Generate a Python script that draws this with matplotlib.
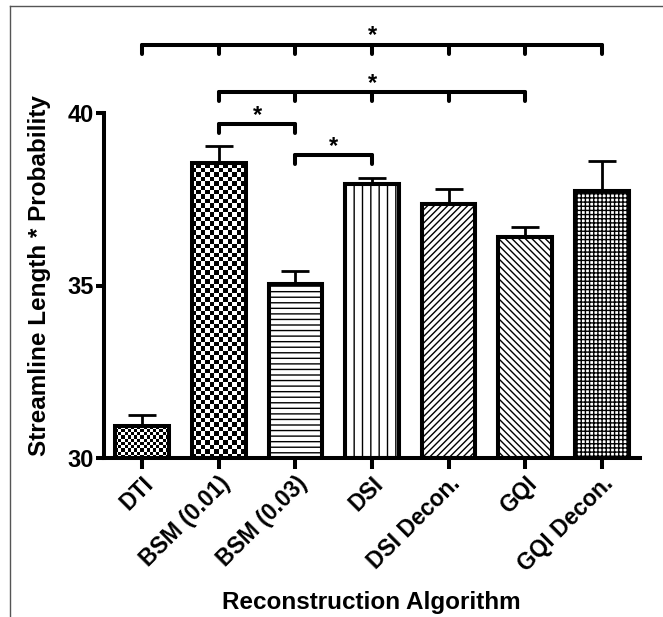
"""Bar chart of streamline length * probability per reconstruction algorithm."""

import matplotlib
import numpy as np

matplotlib.use("Agg")
import matplotlib.pyplot as plt  # noqa: E402
from matplotlib.lines import Line2D  # noqa: E402

CATEGORIES = ["DTI", "BSM (0.01)", "BSM (0.03)", "DSI", "DSI Decon.", "GQI", "GQI Decon."]
MEANS = [30.93, 38.55, 35.03, 37.94, 37.35, 36.40, 37.73]
ERRORS = [0.32, 0.49, 0.39, 0.17, 0.44, 0.31, 0.88]
Y_TICKS = [30, 35, 40]

# significance brackets: (bar indices, bracket height)
BRACKETS = [
    ([0, 1, 2, 3, 4, 5, 6], 41.98),
    ([1, 2, 3, 4, 5], 40.61),
    ([1, 2], 39.68),
    ([2, 3], 38.78),
]

BAR_WIDTH = 0.7
LINE_WIDTH = 2.9
FONT = ["Liberation Sans", "DejaVu Sans"]
# fill style per bar: ("checker", cells across) or hatch string
FILLS = [("checker", 17), ("checker", 12), "---", "||", "/////", "\\\\\\\\\\", "++++"]

plt.rcParams["font.family"] = FONT
plt.rcParams["font.weight"] = "bold"
plt.rcParams["hatch.linewidth"] = 1.0


def draw_checker(axis, x_center, top, cells_across, px_per_unit_ratio):
    left = x_center - BAR_WIDTH / 2
    right = x_center + BAR_WIDTH / 2
    cell_w = BAR_WIDTH / cells_across
    cell_h = cell_w * px_per_unit_ratio
    rows = int(np.ceil((top - Y_TICKS[0]) / cell_h))
    pattern = np.indices((rows, cells_across)).sum(axis=0) % 2
    image = axis.imshow(
        pattern,
        cmap="gray",
        interpolation="nearest",
        origin="lower",
        extent=(left, right, Y_TICKS[0], Y_TICKS[0] + rows * cell_h),
        aspect="auto",
        zorder=2,
        vmin=0,
        vmax=1,
    )
    clip = plt.Rectangle((left, Y_TICKS[0]), BAR_WIDTH, top - Y_TICKS[0], transform=axis.transData)
    image.set_clip_path(clip)


figure = plt.figure(figsize=(6.63, 6.17), dpi=100)
axis = figure.add_axes([104 / 663, 1 - 458 / 617, 536 / 663, 345 / 617])

positions = np.arange(len(CATEGORIES))
axis.set_xlim(-0.5, len(CATEGORIES) - 0.5)
axis.set_ylim(Y_TICKS[0], Y_TICKS[-1])

# x units per pixel vs y units per pixel, for square checker cells
x_per_px = (len(CATEGORIES)) / 536
y_per_px = (Y_TICKS[-1] - Y_TICKS[0]) / 345
ratio = y_per_px / x_per_px

axis.errorbar(
    positions,
    MEANS,
    yerr=[np.zeros(len(MEANS)), ERRORS],
    fmt="none",
    ecolor="black",
    elinewidth=2.0,
    capsize=10,
    capthick=2.0,
    zorder=1,
)

for index, (mean, fill) in enumerate(zip(MEANS, FILLS)):
    hatch = None
    if isinstance(fill, tuple):
        draw_checker(axis, positions[index], mean, fill[1], ratio)
    else:
        hatch = fill
    axis.bar(
        positions[index],
        mean - Y_TICKS[0],
        bottom=Y_TICKS[0],
        width=BAR_WIDTH,
        facecolor="white" if hatch else "none",
        edgecolor="black",
        linewidth=LINE_WIDTH,
        hatch=hatch,
        zorder=3 if hatch is None else 1.5,
    )
    if hatch:
        axis.bar(
            positions[index],
            mean - Y_TICKS[0],
            bottom=Y_TICKS[0],
            width=BAR_WIDTH,
            facecolor="none",
            edgecolor="black",
            linewidth=LINE_WIDTH,
            zorder=3,
        )

tick_drop = 0.27
for members, height in BRACKETS:
    axis.plot(
        [members[0], members[-1]],
        [height, height],
        color="black",
        linewidth=LINE_WIDTH,
        solid_capstyle="round",
        clip_on=False,
    )
    for member in members:
        axis.plot(
            [member, member],
            [height, height - tick_drop],
            color="black",
            linewidth=LINE_WIDTH,
            solid_capstyle="round",
            clip_on=False,
        )
    axis.text(
        (members[0] + members[-1]) / 2,
        height + 0.07,
        "*",
        ha="center",
        va="baseline",
        fontsize=17,
        fontweight="bold",
    )

for side in ("top", "right"):
    axis.spines[side].set_visible(False)
for side in ("left", "bottom"):
    axis.spines[side].set_linewidth(LINE_WIDTH)

axis.set_yticks(Y_TICKS)
axis.set_yticklabels([str(t) for t in Y_TICKS], fontsize=17, fontweight="bold")
axis.set_xticks(positions)
axis.set_xticklabels(
    CATEGORIES,
    rotation=45,
    ha="right",
    rotation_mode="anchor",
    fontsize=16.5,
    fontweight="bold",
)
axis.tick_params(axis="y", length=6, width=LINE_WIDTH, pad=1)
axis.tick_params(axis="x", length=8, width=LINE_WIDTH, pad=2)

axis.set_ylabel("Streamline Length * Probability", fontsize=17.5, fontweight="bold")
axis.yaxis.set_label_coords(-0.098, 0.53)
axis.set_xlabel("Reconstruction Algorithm", fontsize=17.5, fontweight="bold")
axis.xaxis.set_label_coords(0.498, -0.385)

frame_x = 10 / 663
frame_y = 1 - 6 / 617
figure.add_artist(Line2D([frame_x, frame_x], [0, frame_y], transform=figure.transFigure, color="#555555", linewidth=1))
figure.add_artist(Line2D([frame_x, 1], [frame_y, frame_y], transform=figure.transFigure, color="#555555", linewidth=1))

figure.savefig("out.png", dpi=100)
